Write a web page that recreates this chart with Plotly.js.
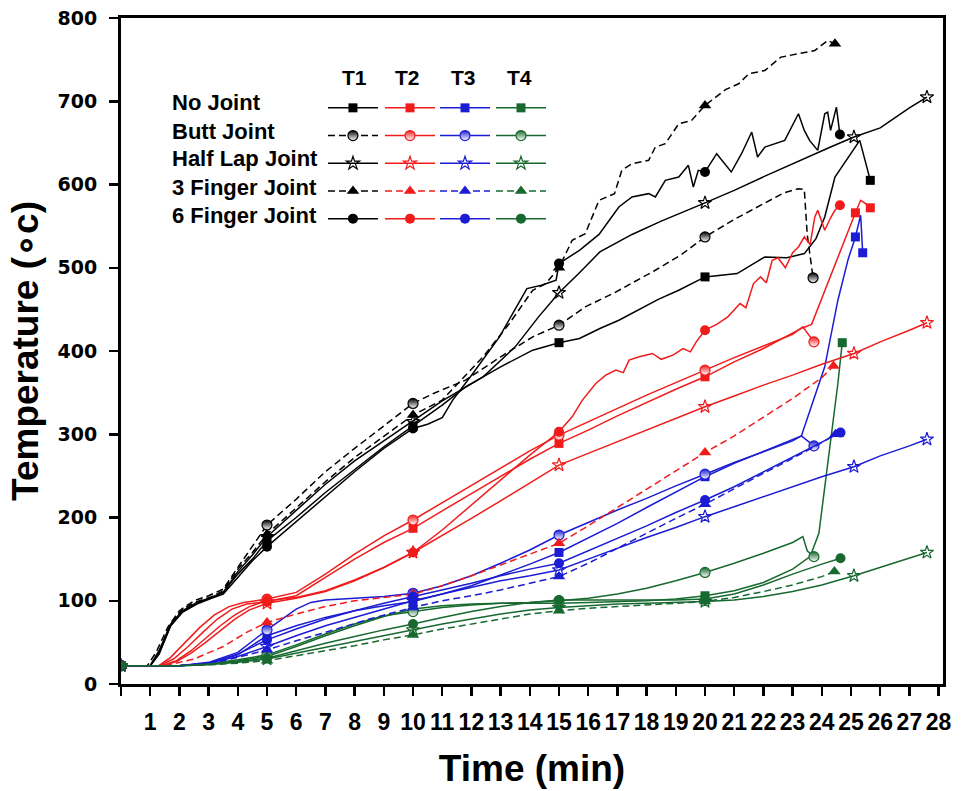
<!DOCTYPE html>
<html><head><meta charset="utf-8">
<script src="https://cdn.plot.ly/plotly-3.0.1.min.js"></script>
<style>html,body{margin:0;padding:0;background:#fff}#chart{width:962px;height:791px}</style>
</head><body><div id="chart"></div>
<script>
// ---------- tick labels ----------
const xTickVals = [0,1,2,3,4,5,6,7,8,9,10,11,12,13,14,15,16,17,18,19,20,21,22,23,24,25,26,27,28];
const xTickText = ['','1','2','3','4','5','6','7','8','9','10','11','12','13','14','15','16','17','18','19','20','21','22','23','24','25','26','27','28'];
const yTickVals = [0,100,200,300,400,500,600,700,800];
const jointNames = ['No Joint','Butt Joint','Half Lap Joint','3 Finger Joint','6 Finger Joint'];
const sensorNames = ['T1','T2','T3','T4'];
const markTimes = [0,5,10,15,20,25.1,25.15];

// ---------- T1 (black) ----------
const noJointT1_t = [0,1,1.3,1.7,2.1,2.6,3.1,3.5,4,4.5,5,6,7,8,9,10,11,11.8,13,14.1,15,15.7,16.4,17.05,17.7,18.4,19.1,20,21.1,22.05,22.8,23.4,23.8,24.1,24.45,24.8,25.3,25.66];
const noJointT1_v = [22,22,40,72,88,98,104,110,132,150,172,200,230,258,285,310,335,357,381,401,410,415,427,437,449,462,473,489,493,513,512,517,535,561,609,627,653,605];
const buttT1_t = [0,0.9,1.2,1.6,2,2.5,3,3.5,4,4.5,5,6,7,8,9,10,10.7,11.8,13,14.1,15,15.9,16.9,18.3,19.2,20,21,22.05,22.7,23.2,23.4,23.5,23.7];
const buttT1_v = [22,22,38,68,88,100,106,114,140,165,191,222,255,283,310,337,349,365,393,417,431,453,470,497,516,537,558,578,590,595,594,540,488];
const halfLapT1_t = [0,1,1.3,1.7,2.1,2.6,3.1,3.5,4,4.5,5,6,7,8,9,10,11,12.4,13.5,14.3,15,15.7,16.4,17.5,18.5,20,21,22.05,23,24.3,25.1,26,27,27.6];
const halfLapT1_v = [22,22,36,70,87,97,104,110,135,155,177,208,240,268,292,315,340,369,405,441,470,494,519,540,556,578,593,610,625,645,657,668,692,705];
const threeFingerT1_t = [0,1,1.3,1.7,2.1,2.6,3.1,3.5,4,4.5,5,6,7,8,9,10,11,12.4,13.3,14.1,14.55,15,15.45,15.9,16.37,16.9,17.15,17.5,18.07,18.3,18.64,19.1,19.54,20,20.7,21.15,21.5,22.05,22.6,23.2,23.76,24.2,24.45];
const threeFingerT1_v = [22,22,38,72,90,99,105,112,138,158,180,212,243,272,298,323,341,393,433,473,481,500,533,541,581,589,617,625,629,645,649,673,677,695,714,721,733,737,753,757,761,773,769];
const sixFingerT1_t = [0,1,1.3,1.7,2.1,2.6,3.1,3.5,4,4.5,5,6,7,8,9,10,10.5,11,11.36,12.05,12.96,13.4,13.9,14.4,14.9,15,15.7,16.37,17.05,17.5,18.07,18.3,18.64,19.1,19.43,19.6,19.77,20,20.4,20.9,21.25,21.6,21.8,22.05,22.4,22.73,23.2,23.4,23.58,23.86,24.1,24.2,24.3,24.5,24.62];
const sixFingerT1_v = [22,22,36,70,86,96,103,108,128,148,165,195,226,255,283,307,312,320,341,373,417,445,475,479,485,505,521,540,573,585,589,585,605,609,623,597,617,615,637,615,637,663,633,645,649,653,685,665,653,641,685,687,665,693,660];

// ---------- T2 (red) ----------
const noJointT2_t = [0,1.3,1.8,2.3,2.8,3.3,3.8,4.3,5,6,7,8,9,10,11,12,13,14,15,16,17,18,19,20,21,22,23,23.35,23.65,23.97,24.3,24.65,24.9,25.15,25.33,25.5,25.66];
const noJointT2_v = [22,22,30,45,62,78,90,96,99,106,128,150,170,187,208,229,250,270,289,305,322,338,354,369,387,403,421,428,432,461,489,521,545,566,581,577,572];
const buttT2_t = [0,1.3,1.7,2.2,2.7,3.2,3.7,4.2,5,6,7,8,9,10,11,12,13,14,15,16,17,18,19,20,21,22,23,23.35,23.55,23.73];
const buttT2_v = [22,22,32,50,68,83,93,98,102,110,132,156,178,197,218,239,260,280,299,315,331,347,362,377,392,406,420,429,420,411];
const halfLapT2_t = [0,1.4,1.9,2.4,2.9,3.4,3.9,4.4,5,6,7,8,9,10,11,12,13,14,15,16,17,18,19,20,21,22,23,24,25.1,26,27,27.6];
const halfLapT2_v = [22,22,27,37,50,64,78,89,97,103,111,124,140,158,178,199,220,242,263,277,291,305,319,333,346,359,371,384,397,411,425,434];
const threeFingerT2_t = [0,1.5,2.5,3.5,4.3,5,6,7,8,9,10,11,12,13,14,15,16,17,18,19,20,21,22,23,24,24.4];
const threeFingerT2_v = [22,22,30,45,62,74,84,93,100,104,108,118,130,143,156,169,190,212,234,256,278,298,320,343,368,382];
const sixFingerT2_t = [0,1.4,1.9,2.4,2.9,3.4,3.9,4.4,5,6,7,8,9,10,11,12,13,14,15,15.45,15.8,16.26,16.6,16.95,17.2,17.4,17.75,18.2,18.5,18.9,19.25,19.5,19.7,20,20.4,20.78,21.2,21.4,21.66,21.9,22.1,22.3,22.5,22.75,23.0,23.2,23.4,23.6,23.76,23.86,24.1,24.3,24.45,24.62];
const sixFingerT2_v = [22,22,28,40,55,70,83,93,100,104,112,125,140,158,185,215,246,275,303,321,341,361,371,377,374,389,393,397,390,395,403,399,411,425,432,441,457,452,481,489,482,509,512,500,518,525,537,528,561,569,545,560,569,575];

// ---------- T3 (blue) ----------
const noJointT3_t = [0,2,3,4,5,6,7,8,9,10,11,12,13,14,15,16,17,18,19,20,21,22,23,23.3,23.6,24.1,24.55,24.9,25.15,25.33,25.4];
const noJointT3_v = [22,22,25,35,58,70,80,88,94,99,108,118,131,144,158,175,193,212,231,249,265,279,293,298,329,381,461,510,537,563,518];
const buttT3_t = [0,2,3,4,5,5.5,6,6.5,7,8,9,10,11,12,13,14,15,16,17,18,19,20,21,22,23,23.3,23.5,23.73];
const buttT3_v = [22,22,26,38,65,78,90,98,101,103,105,109,118,130,145,161,179,194,209,223,238,252,266,279,292,298,292,286];
const halfLapT3_t = [0,2,3,4,5,6,7,8,9,10,11,12,13,14,15,16,17,18,19,20,21,22,23,24,25.1,26,27,27.6];
const halfLapT3_v = [22,22,25,33,45,58,70,80,90,100,108,116,124,130,137,150,163,176,188,201,213,225,237,249,261,274,286,294];
const threeFingerT3_t = [0,2,3,4,5,6,7,8.5,10,11,12,13,14,15,16,17,18,19,20,21,22,23,24,24.47];
const threeFingerT3_v = [22,22,24,32,41,52,62,78,92,100,106,113,121,129,145,163,181,199,216,234,253,271,290,300];
const sixFingerT3_t = [0,2,3,4,5,6,7,8,9,10,11,12,13,14,15,16,17,18,19,20,21,22,23,24,24.64];
const sixFingerT3_v = [22,22,25,36,53,66,78,88,97,105,113,121,130,138,145,160,175,190,206,221,237,255,272,290,302];

// ---------- T4 (green) ----------
const noJointT4_t = [0,2,3,4,5,6,7,8,9,10,11,12,13,14,15,16,17,18,19,20,21,22,23,23.6,23.9,24.2,24.4,24.55,24.7];
const noJointT4_v = [22,22,24,28,33,45,58,70,81,90,94,96,97,97,97,98,99,100,102,106,112,122,138,153,181,261,320,361,410];
const buttT4_t = [0,2,3,4,5,6,7,8,9,10,11,12,13,14,15,16,17,18,19,20,21,22,23,23.35,23.5,23.73];
const buttT4_v = [22,22,24,29,35,47,60,72,82,87,92,95,97,98,100,103,108,115,124,134,145,157,170,177,160,153];
const halfLapT4_t = [0,2,3,4,5,6,7,8,9,10,11,12,13,14,15,16,17,18,19,20,21,22,23,24,25.1,26,27,27.6];
const halfLapT4_v = [22,22,23,26,30,37,44,51,58,65,72,78,84,89,92,94,96,97,98,99,101,105,111,119,130,140,151,158];
const threeFingerT4_t = [0,2,3,4,5,6,7,8,9,10,11,12,13,14,15,16,17,18,19,20,21,22,23,24,24.43];
const threeFingerT4_v = [22,22,23,25,28,34,40,46,53,59,66,72,78,84,88,91,93,95,97,99,104,111,119,129,135];
const sixFingerT4_t = [0,2,3,4,5,6,7,8,9,10,11,12,13,14,15,16,17,18,19,20,21,22,23,24,24.64];
const sixFingerT4_v = [22,22,24,27,31,40,49,57,65,72,80,87,93,98,101,101,101,101,101,102,108,119,132,144,151];

// ---------- styling ----------
const sensorColors = ['#000000','#f01c1c','#1c1cd4','#17692f'];
const legendIds = ['legend','legend2','legend3','legend4'];
const series = [
  [[noJointT1_t,noJointT1_v],[noJointT2_t,noJointT2_v],[noJointT3_t,noJointT3_v],[noJointT4_t,noJointT4_v]],
  [[buttT1_t,buttT1_v],[buttT2_t,buttT2_v],[buttT3_t,buttT3_v],[buttT4_t,buttT4_v]],
  [[halfLapT1_t,halfLapT1_v],[halfLapT2_t,halfLapT2_v],[halfLapT3_t,halfLapT3_v],[halfLapT4_t,halfLapT4_v]],
  [[threeFingerT1_t,threeFingerT1_v],[threeFingerT2_t,threeFingerT2_v],[threeFingerT3_t,threeFingerT3_v],[threeFingerT4_t,threeFingerT4_v]],
  [[sixFingerT1_t,sixFingerT1_v],[sixFingerT2_t,sixFingerT2_v],[sixFingerT3_t,sixFingerT3_v],[sixFingerT4_t,sixFingerT4_v]]
];

function markIdx(t){ const r=[]; t.forEach((x,i)=>{ if(markTimes.includes(x)||i===t.length-1) r.push(i); }); return r; }

function markerFor(j,color){
  if(j===0) return {symbol:'square',size:9,color:color,line:{width:0}};
  if(j===1) return {symbol:'circle',size:10,color:color,line:{color:color,width:1.2},gradient:{type:'vertical',color:'#ffffff'}};
  if(j===2) return {symbol:'star-open',size:10,color:color,line:{color:color,width:1.2}};
  if(j===3) return {symbol:'triangle-up',size:11,color:color,line:{width:0}};
  return {symbol:'circle',size:10,color:color,line:{width:0}};
}

const traces = [];
for(let j=0;j<5;j++){
  for(let s=0;s<4;s++){
    const [t,v] = series[j][s];
    const color = sensorColors[s];
    const dashed = (j===3) || (j===1 && s===0);
    traces.push({
      type:'scatter', mode:'lines+markers', x:t, y:v,
      name:'',
      legend: legendIds[s],
      line:{color:color,width:1.5,dash: dashed ? '7px,4px' : 'solid'},
      marker: markerFor(j,color),
      selectedpoints: markIdx(t),
      selected:{marker:{opacity:1}},
      unselected:{marker:{opacity:0}},
      hovertext: jointNames[j]+' '+sensorNames[s]
    });
  }
}

const fontMain = 'Liberation Sans, Arial, sans-serif';
function legendCfg(x){
  return {x:x, y:0.8934, xanchor:'left', yanchor:'top', bgcolor:'rgba(0,0,0,0)', borderwidth:0,
    itemwidth:50, font:{size:19,color:'rgba(0,0,0,0)',family:fontMain}, tracegroupgap:0};
}

const annotations = [];
const headerX = [0.2835,0.3491,0.4161,0.4842];
sensorNames.forEach((s,i)=>annotations.push({xref:'paper',yref:'paper',x:headerX[i],y:0.9114,text:s,showarrow:false,xanchor:'center',yanchor:'middle',font:{family:fontMain,size:21,weight:700,color:'#000'}}));
const rowY = [0.8724,0.8303,0.7883,0.7462,0.7042];
jointNames.forEach((n,i)=>annotations.push({xref:'paper',yref:'paper',x:0.06,y:rowY[i],text:n,showarrow:false,xanchor:'left',yanchor:'middle',font:{family:fontMain,size:22,weight:700,color:'#000'}}));

const layout = {
  width:962, height:791,
  margin:{l:121,r:19,t:18,b:107},
  paper_bgcolor:'#fff', plot_bgcolor:'#fff',
  showlegend:true,
  legend:legendCfg(0.2457), legend2:legendCfg(0.3151), legend3:legendCfg(0.382), legend4:legendCfg(0.4501),
  xaxis:{range:[0,28.15], tickmode:'array', tickvals:xTickVals, ticktext:xTickText,
    ticks:'outside', ticklen:9, tickwidth:2.5, tickcolor:'#000', showline:true, linewidth:3, linecolor:'#000', mirror:true,
    showgrid:false, zeroline:false, ticklabelstandoff:6,
    tickfont:{family:fontMain,size:23,weight:700,color:'#000'},
    title:{text:'Time (min)', standoff:22, font:{family:fontMain,size:37,weight:700,color:'#000'}}},
  yaxis:{range:[0,800], tickmode:'array', tickvals:yTickVals,
    ticks:'outside', ticklen:9, tickwidth:2.5, tickcolor:'#000', showline:true, linewidth:3, linecolor:'#000', mirror:true,
    showgrid:false, zeroline:false, ticklabelstandoff:8,
    tickfont:{family:'DejaVu Sans, sans-serif',size:19,weight:700,color:'#000'},
    title:{text:'Temperature (∘c)', standoff:8, font:{family:fontMain,size:37,weight:700,color:'#000'}}},
  annotations:annotations
};

Plotly.newPlot('chart', traces, layout, {displayModeBar:false, staticPlot:true});
</script></body></html>
